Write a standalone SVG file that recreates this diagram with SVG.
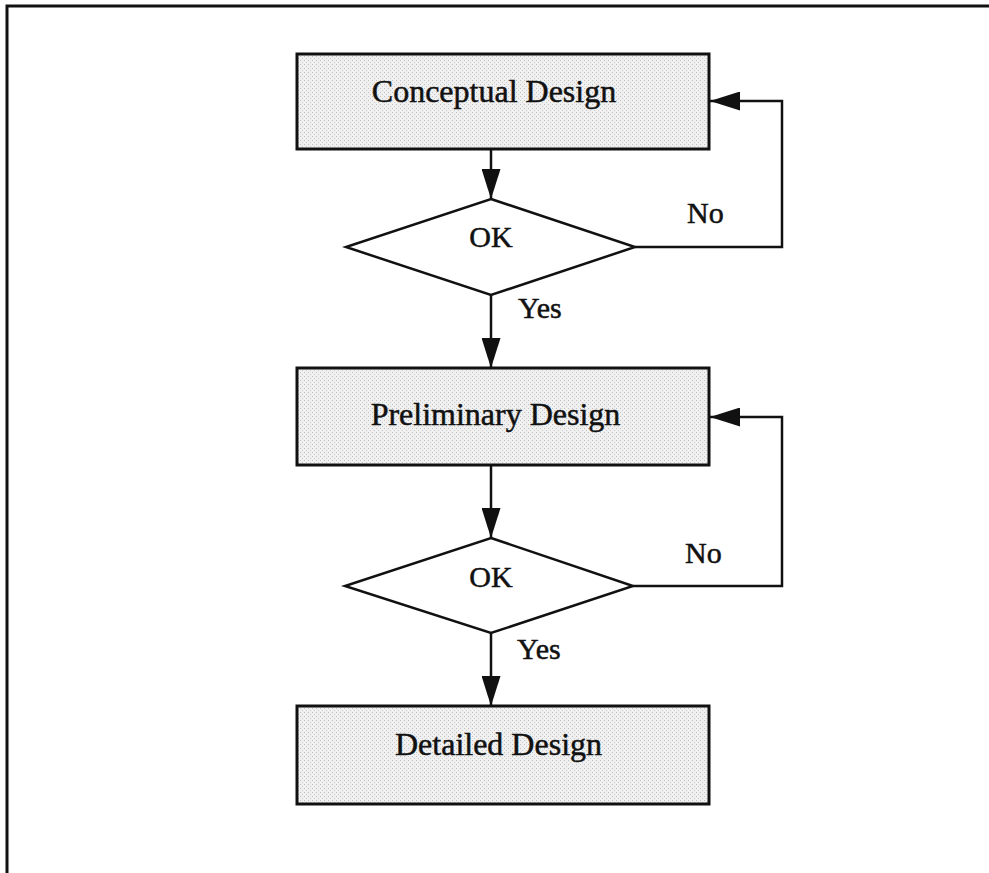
<svg xmlns="http://www.w3.org/2000/svg" width="989" height="873" viewBox="0 0 989 873">
  <style>
    .frame { fill: none; stroke: #111; stroke-width: 3; }
    .box { fill: url(#stipple); stroke: #111; stroke-width: 3; }
    .decision { fill: #fff; stroke: #111; stroke-width: 2.5; stroke-linejoin: miter; }
    .wire { fill: none; stroke: #111; stroke-width: 2.5; }
    .label { font-family: "Liberation Serif", "Times New Roman", serif; font-size: 32px; fill: #111; stroke: #111; stroke-width: 0.5; }
    .small { font-family: "Liberation Serif", "Times New Roman", serif; font-size: 30px; fill: #111; stroke: #111; stroke-width: 0.5; }
  </style>
  <defs>
    <pattern id="stipple" width="4" height="4" patternUnits="userSpaceOnUse">
      <rect width="4" height="4" fill="#f0f0f0"/>
      <rect x="0" y="0" width="1" height="1" fill="#c0c0c0"/>
      <rect x="2" y="2" width="1" height="1" fill="#cccccc"/>
    </pattern>
    <marker id="arrow" markerUnits="userSpaceOnUse" markerWidth="30" markerHeight="19" refX="30" refY="9.5" orient="auto">
      <path d="M0,0 L30,9.5 L0,19 Z" fill="#111"/>
    </marker>
  </defs>

  <!-- outer frame: top and left rules only -->
  <path class="frame" d="M7,873 L7,6 L989,6"/>

  <g id="conceptual">
    <rect class="box" x="297" y="54" width="412" height="95"/>
    <text class="label" x="494" y="102" text-anchor="middle">Conceptual Design</text>
  </g>

  <g id="ok1">
    <polygon class="decision" points="491,199 635,247 491,295 346,247"/>
    <text class="small" x="491" y="247" text-anchor="middle">OK</text>
  </g>

  <g id="preliminary">
    <rect class="box" x="297" y="368" width="412" height="97"/>
    <text class="label" x="495.5" y="425" text-anchor="middle">Preliminary Design</text>
  </g>

  <g id="ok2">
    <polygon class="decision" points="491,538 633,586 491,633 345,586"/>
    <text class="small" x="491" y="587" text-anchor="middle">OK</text>
  </g>

  <g id="detailed">
    <rect class="box" x="297" y="706" width="412" height="98"/>
    <text class="label" x="498.5" y="755" text-anchor="middle">Detailed Design</text>
  </g>

  <g id="connectors">
    <line class="wire" x1="491" y1="149" x2="491" y2="199" marker-end="url(#arrow)"/>
    <line class="wire" x1="491" y1="295" x2="491" y2="368" marker-end="url(#arrow)"/>
    <line class="wire" x1="491" y1="465" x2="491" y2="538" marker-end="url(#arrow)"/>
    <line class="wire" x1="491" y1="633" x2="491" y2="706" marker-end="url(#arrow)"/>
    <polyline class="wire" points="635,247 782,247 782,101 710,101" marker-end="url(#arrow)"/>
    <polyline class="wire" points="633,586 782,586 782,417 710,417" marker-end="url(#arrow)"/>
    <text class="small" x="687" y="223">No</text>
    <text class="small" x="518" y="318">Yes</text>
    <text class="small" x="685" y="563">No</text>
    <text class="small" x="517" y="659">Yes</text>
  </g>
</svg>
